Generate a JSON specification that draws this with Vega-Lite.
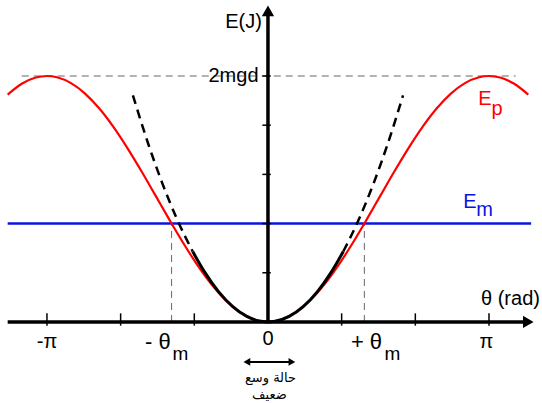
{
  "$schema": "https://vega.github.io/schema/vega-lite/v6.json",
  "width": 542,
  "height": 403,
  "autosize": {"type": "fit", "contains": "padding"},
  "padding": 0,
  "background": "white",
  "config": {"view": {"stroke": null}, "text": {"font": "Liberation Sans"}},
  "datasets": {
    "ep": [
      {"t": -3.7, "e": 1.8481}, {"t": -3.5, "e": 1.9365}, {"t": -3.3, "e": 1.9875}, {"t": -3.1416, "e": 2.0},
      {"t": -3.0, "e": 1.99}, {"t": -2.8, "e": 1.9422}, {"t": -2.6, "e": 1.8569}, {"t": -2.4, "e": 1.7374},
      {"t": -2.2, "e": 1.5885}, {"t": -2.0, "e": 1.4161}, {"t": -1.8, "e": 1.2272}, {"t": -1.6, "e": 1.0292},
      {"t": -1.4, "e": 0.83}, {"t": -1.2, "e": 0.6376}, {"t": -1.0, "e": 0.4597}, {"t": -0.8, "e": 0.3033},
      {"t": -0.6, "e": 0.1747}, {"t": -0.4, "e": 0.0789}, {"t": -0.2, "e": 0.0199}, {"t": 0, "e": 0},
      {"t": 0.2, "e": 0.0199}, {"t": 0.4, "e": 0.0789}, {"t": 0.6, "e": 0.1747}, {"t": 0.8, "e": 0.3033},
      {"t": 1.0, "e": 0.4597}, {"t": 1.2, "e": 0.6376}, {"t": 1.4, "e": 0.83}, {"t": 1.6, "e": 1.0292},
      {"t": 1.8, "e": 1.2272}, {"t": 2.0, "e": 1.4161}, {"t": 2.2, "e": 1.5885}, {"t": 2.4, "e": 1.7374},
      {"t": 2.6, "e": 1.8569}, {"t": 2.8, "e": 1.9422}, {"t": 3.0, "e": 1.99}, {"t": 3.1416, "e": 2.0},
      {"t": 3.3, "e": 1.9875}, {"t": 3.5, "e": 1.9365}, {"t": 3.7, "e": 1.8481}
    ],
    "parab": [
      {"part": "near", "t": -1.07, "e": 0.5725}, {"part": "near", "t": -0.9, "e": 0.405}, {"part": "near", "t": -0.7, "e": 0.245},
      {"part": "near", "t": -0.5, "e": 0.125}, {"part": "near", "t": -0.3, "e": 0.045}, {"part": "near", "t": -0.1, "e": 0.005},
      {"part": "near", "t": 0, "e": 0}, {"part": "near", "t": 0.1, "e": 0.005}, {"part": "near", "t": 0.3, "e": 0.045},
      {"part": "near", "t": 0.5, "e": 0.125}, {"part": "near", "t": 0.7, "e": 0.245}, {"part": "near", "t": 0.9, "e": 0.405},
      {"part": "near", "t": 1.07, "e": 0.5725},
      {"part": "farL", "t": -1.92, "e": 1.843}, {"part": "farL", "t": -1.7, "e": 1.445}, {"part": "farL", "t": -1.5, "e": 1.125},
      {"part": "farL", "t": -1.3, "e": 0.845}, {"part": "farL", "t": -1.07, "e": 0.5725},
      {"part": "farR", "t": 1.07, "e": 0.5725}, {"part": "farR", "t": 1.3, "e": 0.845}, {"part": "farR", "t": 1.5, "e": 1.125},
      {"part": "farR", "t": 1.7, "e": 1.445}, {"part": "farR", "t": 1.92, "e": 1.843}
    ],
    "rules": [
      {"kind": "guide", "t": -3.5, "t2": 3.52, "e": 2, "e2": 2},
      {"kind": "guide", "t": -1.37, "t2": -1.37, "e": 0, "e2": 0.8},
      {"kind": "guide", "t": 1.37, "t2": 1.37, "e": 0, "e2": 0.8},
      {"kind": "em", "t": -3.7, "t2": 3.74, "e": 0.8, "e2": 0.8},
      {"kind": "axis", "t": -3.7, "t2": 3.72, "e": 0, "e2": 0},
      {"kind": "axis", "t": 0, "t2": 0, "e": 0, "e2": 2.5},
      {"kind": "tick", "t": -3.1416, "t2": -3.1416, "e": -0.03, "e2": 0.07},
      {"kind": "tick", "t": -2.0944, "t2": -2.0944, "e": -0.03, "e2": 0.07},
      {"kind": "tick", "t": -1.0472, "t2": -1.0472, "e": -0.03, "e2": 0.07},
      {"kind": "tick", "t": 1.0472, "t2": 1.0472, "e": -0.03, "e2": 0.07},
      {"kind": "tick", "t": 2.0944, "t2": 2.0944, "e": -0.03, "e2": 0.07},
      {"kind": "tick", "t": 3.1416, "t2": 3.1416, "e": -0.03, "e2": 0.07},
      {"kind": "tick", "t": -0.08, "t2": 0.04, "e": 0.4, "e2": 0.4},
      {"kind": "tick", "t": -0.08, "t2": 0.04, "e": 0.8, "e2": 0.8},
      {"kind": "tick", "t": -0.08, "t2": 0.04, "e": 1.2, "e2": 1.2},
      {"kind": "tick", "t": -0.08, "t2": 0.04, "e": 1.6, "e2": 1.6},
      {"kind": "tick", "t": -0.08, "t2": 0.04, "e": 2.0, "e2": 2.0},
      {"kind": "small", "t": -0.3, "t2": 0.34, "e": -0.325, "e2": -0.325}
    ],
    "arrows": [
      {"kind": "big", "dir": "right", "t": 3.7, "e": 0},
      {"kind": "big", "dir": "up", "t": 0, "e": 2.53},
      {"kind": "small", "dir": "left", "t": -0.3, "e": -0.325},
      {"kind": "small", "dir": "right", "t": 0.34, "e": -0.325}
    ],
    "labels": [
      {"kind": "main", "t": -3.1416, "e": -0.163, "txt": "-π"},
      {"kind": "theta", "t": -1.564, "e": -0.16, "txt": "- θ"},
      {"kind": "main", "t": 0, "e": -0.138, "txt": "0"},
      {"kind": "theta", "t": 1.4, "e": -0.16, "txt": "+ θ"},
      {"kind": "main", "t": 3.106, "e": -0.163, "txt": "π"},
      {"kind": "main", "t": -0.348, "e": 2.439, "txt": "E(J)"},
      {"kind": "main", "t": -0.49, "e": 2.0, "txt": "2mgd"},
      {"kind": "main", "t": 3.447, "e": 0.183, "txt": "θ (rad)"},
      {"kind": "sub", "t": -1.244, "e": -0.26, "txt": "m"},
      {"kind": "sub", "t": 1.77, "e": -0.26, "txt": "m"},
      {"kind": "ep", "t": 3.085, "e": 1.809, "txt": "E"},
      {"kind": "epsub", "t": 3.255, "e": 1.728, "txt": "p"},
      {"kind": "em", "t": 2.871, "e": 0.972, "txt": "E"},
      {"kind": "emsub", "t": 3.078, "e": 0.911, "txt": "m"},
      {"kind": "ar", "t": 0.036, "e": -0.455, "txt": "حالة وسع"},
      {"kind": "ar", "t": 0.021, "e": -0.593, "txt": "ضعيف"}
    ]
  },
  "encoding": {
    "x": {"field": "t", "type": "quantitative", "scale": {"domain": [-3.809, 3.895], "nice": false, "zero": false}, "axis": null},
    "y": {"field": "e", "type": "quantitative", "scale": {"domain": [-0.659, 2.618], "nice": false, "zero": false}, "axis": null}
  },
  "layer": [
    {
      "data": {"name": "rules"},
      "transform": [{"filter": "datum.kind == 'guide'"}],
      "mark": {"type": "rule", "color": "#666666", "strokeWidth": 1, "strokeDash": [7, 5]},
      "encoding": {"x2": {"field": "t2"}, "y2": {"field": "e2"}}
    },
    {
      "data": {"name": "rules"},
      "transform": [{"filter": "datum.kind == 'em'"}],
      "mark": {"type": "rule", "color": "#0a14e0", "strokeWidth": 2.5},
      "encoding": {"x2": {"field": "t2"}, "y2": {"field": "e2"}}
    },
    {
      "data": {"name": "ep"},
      "mark": {"type": "line", "color": "#ff0000", "strokeWidth": 2.2, "interpolate": "monotone"},
      "encoding": {}
    },
    {
      "data": {"name": "parab"},
      "transform": [{"filter": "datum.part == 'near'"}],
      "mark": {"type": "line", "color": "black", "strokeWidth": 3, "interpolate": "monotone"},
      "encoding": {}
    },
    {
      "data": {"name": "parab"},
      "transform": [{"filter": "datum.part != 'near'"}],
      "mark": {"type": "line", "color": "black", "strokeWidth": 2.5, "strokeDash": [9, 6], "interpolate": "monotone"},
      "encoding": {"detail": {"field": "part", "type": "nominal"}}
    },
    {
      "data": {"name": "rules"},
      "transform": [{"filter": "datum.kind == 'axis'"}],
      "mark": {"type": "rule", "color": "black", "strokeWidth": 3.5},
      "encoding": {"x2": {"field": "t2"}, "y2": {"field": "e2"}}
    },
    {
      "data": {"name": "rules"},
      "transform": [{"filter": "datum.kind == 'tick'"}],
      "mark": {"type": "rule", "color": "black", "strokeWidth": 1.5},
      "encoding": {"x2": {"field": "t2"}, "y2": {"field": "e2"}}
    },
    {
      "data": {"name": "rules"},
      "transform": [{"filter": "datum.kind == 'small'"}],
      "mark": {"type": "rule", "color": "black", "strokeWidth": 2},
      "encoding": {"x2": {"field": "t2"}, "y2": {"field": "e2"}}
    },
    {
      "data": {"name": "arrows"},
      "transform": [{"filter": "datum.kind == 'big'"}],
      "mark": {"type": "point", "filled": true, "color": "black", "opacity": 1, "size": 150},
      "encoding": {"shape": {"field": "dir", "type": "nominal", "scale": {"domain": ["up", "right", "left"], "range": ["triangle-up", "triangle-right", "triangle-left"]}, "legend": null}}
    },
    {
      "data": {"name": "arrows"},
      "transform": [{"filter": "datum.kind == 'small'"}],
      "mark": {"type": "point", "filled": true, "color": "black", "opacity": 1, "size": 60},
      "encoding": {"shape": {"field": "dir", "type": "nominal", "scale": {"domain": ["up", "right", "left"], "range": ["triangle-up", "triangle-right", "triangle-left"]}, "legend": null}}
    },
    {
      "data": {"name": "labels"},
      "transform": [{"filter": "datum.kind == 'main'"}],
      "mark": {"type": "text", "fontSize": 20, "color": "black", "baseline": "middle", "align": "center"},
      "encoding": {"text": {"field": "txt"}}
    },
    {
      "data": {"name": "labels"},
      "transform": [{"filter": "datum.kind == 'theta'"}],
      "mark": {"type": "text", "fontSize": 22, "color": "black", "baseline": "middle", "align": "center"},
      "encoding": {"text": {"field": "txt"}}
    },
    {
      "data": {"name": "labels"},
      "transform": [{"filter": "datum.kind == 'sub'"}],
      "mark": {"type": "text", "fontSize": 19, "color": "black", "baseline": "middle", "align": "center"},
      "encoding": {"text": {"field": "txt"}}
    },
    {
      "data": {"name": "labels"},
      "transform": [{"filter": "datum.kind == 'ep' || datum.kind == 'epsub'"}],
      "mark": {"type": "text", "fontSize": 20, "color": "#ff0000", "baseline": "middle", "align": "center"},
      "encoding": {"text": {"field": "txt"}}
    },
    {
      "data": {"name": "labels"},
      "transform": [{"filter": "datum.kind == 'em' || datum.kind == 'emsub'"}],
      "mark": {"type": "text", "fontSize": 20, "color": "#0a14e0", "baseline": "middle", "align": "center"},
      "encoding": {"text": {"field": "txt"}}
    },
    {
      "data": {"name": "labels"},
      "transform": [{"filter": "datum.kind == 'ar'"}],
      "mark": {"type": "text", "fontSize": 13, "font": "DejaVu Sans", "color": "black", "baseline": "middle", "align": "center"},
      "encoding": {"text": {"field": "txt"}}
    }
  ]
}
